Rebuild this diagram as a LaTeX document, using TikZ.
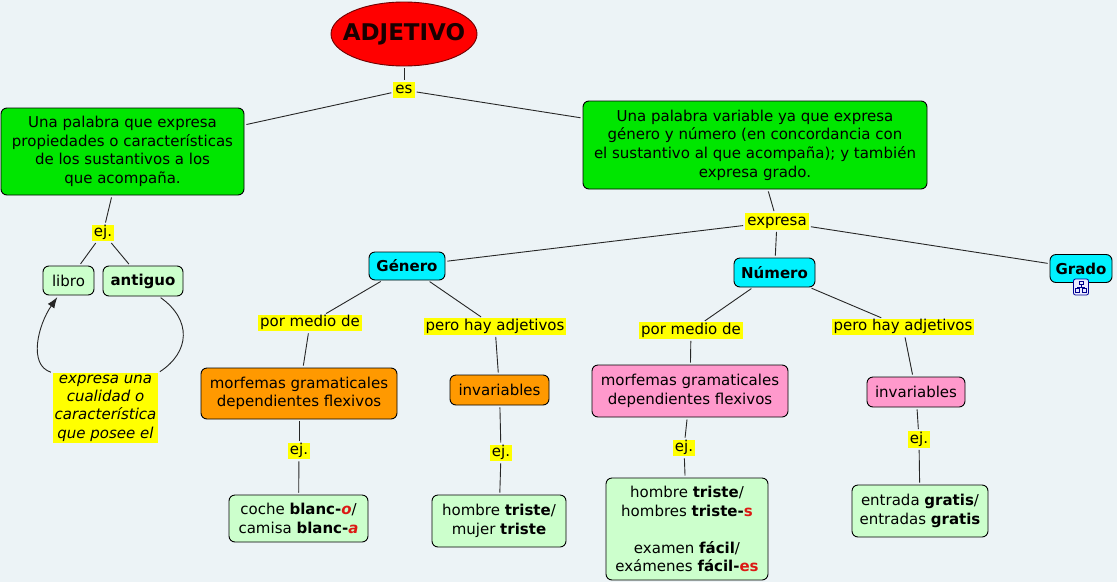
\documentclass[tikz,border=0pt]{standalone}
\usepackage{fontspec}
\setmainfont{DejaVu Sans}
\usepackage{tikz}
\usetikzlibrary{shapes.geometric,arrows.meta}
\definecolor{fondo}{RGB}{236,243,246}
\definecolor{verde}{RGB}{0,230,0}
\definecolor{cian}{RGB}{0,242,255}
\definecolor{naranja}{RGB}{255,153,0}
\definecolor{rosa}{RGB}{255,153,204}
\definecolor{verdeclaro}{RGB}{204,255,204}
\definecolor{amarillo}{RGB}{255,255,0}
\definecolor{rojo}{RGB}{255,0,0}
\definecolor{rojooscuro}{RGB}{110,0,0}
\definecolor{letrarroja}{RGB}{220,25,20}
\newcommand{\terminacion}[1]{\textcolor{letrarroja}{\textbf{#1}}}
\tikzset{
  >={Latex[length=11pt,width=8pt]},
  concepto/.style={
    rectangle,
    rounded corners=6pt,
    draw=black, line width=0.9pt,
    align=center,
    inner sep=0pt,
    font=\fontsize{15}{18.7}\selectfont},
  etiqueta/.style={
    fill=amarillo,
    inner xsep=2pt, inner ysep=1pt,
    align=center,
    font=\fontsize{15}{18.5}\selectfont},
  enlace/.style={etiqueta, text height=11pt, text depth=3.5pt},
  line/.style={draw=black!85, line width=0.9pt, shorten <=2pt, shorten >=2pt},
}

\begin{document}
\begin{tikzpicture}[x=1pt,y=-1pt]
  \fill[fondo] (0,0) rectangle (1117,582);
  \useasboundingbox (0,0) rectangle (1117,582);

  % concepto principal y definiciones
  \node[ellipse, draw=rojooscuro, fill=rojo, line width=0.9pt,
    minimum width=146pt, minimum height=64pt, inner sep=0pt,
    font=\fontsize{23}{26}\selectfont\bfseries] (adjetivo) at (404,34)
    {\makebox[0pt]{\textcolor{black!90!red}{ADJETIVO}}};
  \node[enlace] (es) at (404,90) {es};
  \node[concepto, fill=verde, minimum width=243pt, minimum height=87pt] (def1) at (122.5,151.5)
    {Una palabra que expresa\\propiedades o características\\de los sustantivos a los\\que acompaña.};
  \node[concepto, fill=verde, minimum width=344pt, minimum height=88pt] (def2) at (755,145)
    {Una palabra variable ya que expresa\\género y número (en concordancia con\\el sustantivo al que acompaña); y también\\expresa grado.};

  % ejemplos de la primera definicion
  \node[enlace] (ej1) at (103,233) {ej.};
  \node[concepto, fill=verdeclaro, minimum width=51pt, minimum height=29pt] (libro) at (68.5,280.5) {libro};
  \node[concepto, fill=verdeclaro, minimum width=80pt, minimum height=30pt] (antiguo) at (143,281) {\textbf{antiguo}};
  \node[etiqueta, inner sep=0pt, minimum width=105pt, minimum height=70pt,
    font=\fontsize{15}{18.3}\selectfont\itshape] (cualidad) at (105.5,408)
    {expresa una\\cualidad o\\característica\\que posee el};

  % genero, numero y grado
  \node[enlace] (expresa) at (777,221.5) {expresa};
  \node[concepto, fill=cian, minimum width=76pt, minimum height=28pt] (genero) at (407,266) {\textbf{Género}};
  \node[concepto, fill=cian, minimum width=81pt, minimum height=29pt] (numero) at (774.5,272.5) {\textbf{Número}};
  \node[concepto, fill=cian, minimum width=62pt, minimum height=28pt] (grado) at (1081,268.5) {\textbf{Grado}};
  \node[draw=blue!60!black, fill=blue!8, rounded corners=2pt, line width=0.8pt,
    minimum width=15pt, minimum height=16pt, inner sep=0pt] (icono) at (1081,287) {};
  \begin{scope}[shift={(icono.center)}, draw=blue!55!black, line width=0.6pt]
    \draw (-2,-5.5) rectangle (2,-2.5);
    \draw (0,-2.5) -- (0,0) (-3.5,0) -- (3.5,0) (-3.5,0) -- (-3.5,1.5) (3.5,0) -- (3.5,1.5);
    \draw (-5.5,1.5) rectangle (-1.5,5) (1.5,1.5) rectangle (5.5,5);
  \end{scope}

  % rama del genero
  \node[enlace] (porG) at (310,323) {por medio de};
  \node[enlace] (peroG) at (495,326.5) {pero hay adjetivos};
  \node[concepto, fill=naranja, minimum width=196pt, minimum height=51pt] (morfG) at (299,393.5)
    {morfemas gramaticales\\dependientes flexivos};
  \node[concepto, fill=naranja, minimum width=99pt, minimum height=30pt] (invG) at (499.5,390) {invariables};
  \node[enlace] (ejMG) at (299,451) {ej.};
  \node[enlace] (ejIG) at (501,453) {ej.};
  \node[concepto, fill=verdeclaro, minimum width=139pt, minimum height=47pt] (cocheEx) at (298.5,518.5)
    {coche \textbf{blanc-}\terminacion{\textit{o}}/\\camisa \textbf{blanc-}\terminacion{\textit{a}}};
  \node[concepto, fill=verdeclaro, minimum width=134pt, minimum height=52pt] (tristeEx) at (499,521)
    {hombre \textbf{triste}/\\mujer \textbf{triste}};

  % rama del numero
  \node[enlace] (porN) at (691,330.5) {por medio de};
  \node[enlace] (peroN) at (903,327) {pero hay adjetivos};
  \node[concepto, fill=rosa, minimum width=196pt, minimum height=52pt] (morfN) at (690,391)
    {morfemas gramaticales\\dependientes flexivos};
  \node[concepto, fill=rosa, minimum width=98pt, minimum height=30pt] (invN) at (916,392) {invariables};
  \node[enlace] (ejMN) at (684,448) {ej.};
  \node[enlace] (ejIN) at (919,439.5) {ej.};
  \node[concepto, fill=verdeclaro, minimum width=162pt, minimum height=102pt] (tristesEx) at (687,529)
    {hombre \textbf{triste}/\\hombres \textbf{triste-}\terminacion{s}\\[18.5pt]
     examen \textbf{fácil}/\\exámenes \textbf{fácil-}\terminacion{es}};
  \node[concepto, fill=verdeclaro, minimum width=136pt, minimum height=52pt] (gratisEx) at (920,511)
    {entrada \textbf{gratis}/\\entradas \textbf{gratis}};

  % conexiones
  \foreach \desde/\hasta in {adjetivo/es, es/def1, es/def2, def1/ej1, ej1/libro, ej1/antiguo,
      def2/expresa, expresa/genero, expresa/numero, expresa/grado,
      genero/porG, porG/morfG, morfG/ejMG, ejMG/cocheEx,
      genero/peroG, peroG/invG, invG/ejIG, ejIG/tristeEx,
      numero/porN, porN/morfN, morfN/ejMN, ejMN/tristesEx,
      numero/peroN, peroN/invN, invN/ejIN, ejIN/gratisEx}
    \draw[line] (\desde) -- (\hasta);
  \draw[line] ([xshift=16pt]antiguo.south) .. controls (192,320) and (190,352) .. (cualidad.north east);
  \draw[line, ->] (cualidad.north west) .. controls (28,365) and (38,325) .. ([xshift=-10pt]libro.south);
\end{tikzpicture}
\end{document}
